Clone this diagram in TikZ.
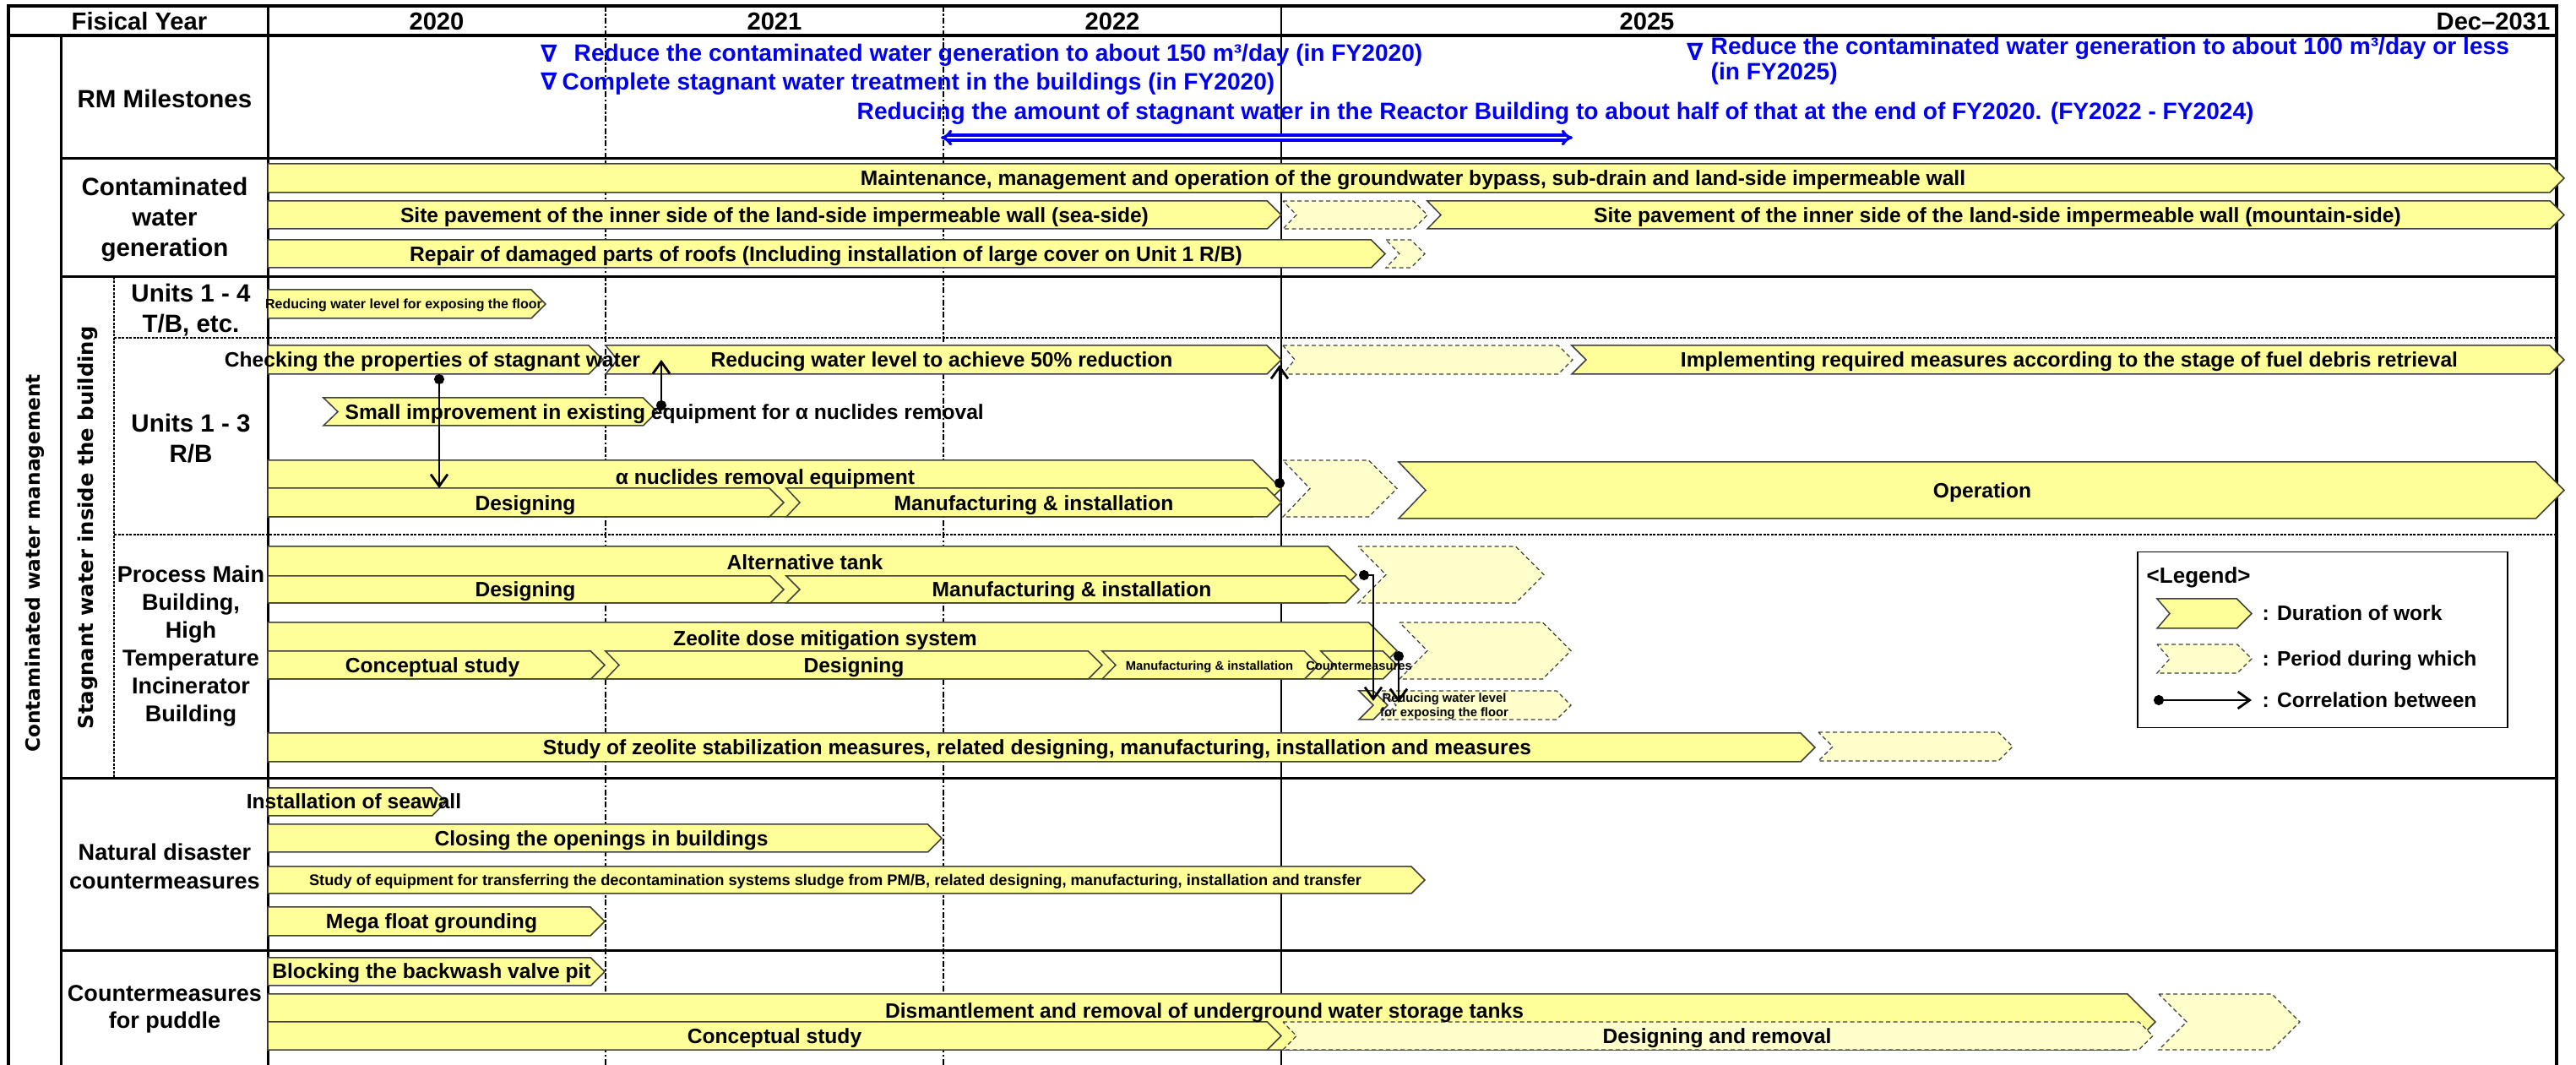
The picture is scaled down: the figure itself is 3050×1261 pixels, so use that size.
\documentclass[tikz,border=0pt]{standalone}
\usepackage{fontspec}
\setmainfont{Liberation Sans}
\newfontfamily\wideface{DejaVu Sans}
\usetikzlibrary{arrows.meta}

\definecolor{workfill}{HTML}{FFFF99}
\definecolor{planfill}{HTML}{FFFFCC}
\definecolor{edgegray}{HTML}{404040}
\definecolor{msblue}{HTML}{0000F0}

% chevron bar: [style]{left x}{tip x}{top y}{bottom y}{left notch depth}
\newcommand{\chevbar}[6][work]{%
  \pgfmathsetmacro\cbhalf{(#5-#4)/2}%
  \pgfmathsetmacro\cbmid{(#5+#4)/2}%
  \path[#1] (#2,#4) -- ({#3-\cbhalf},#4) -- (#3,\cbmid) -- ({#3-\cbhalf},#5)
    -- (#2,#5) -- ({#2+#6},\cbmid) -- cycle;%
}

\begin{document}
\begin{tikzpicture}[x=0.1mm, y=-0.1mm,
  work/.style={fill=workfill, draw=edgegray, line width=0.15mm, line join=miter},
  plan/.style={fill=planfill, draw=edgegray, line width=0.12mm, dash pattern=on 0.5mm off 0.35mm},
  thickrule/.style={line width=0.35mm},
  rule/.style={line width=0.3mm},
  yeardash/.style={line width=0.12mm, dash pattern=on 0.7mm off 0.25mm on 0.25mm off 0.25mm},
  subdash/.style={line width=0.18mm, dash pattern=on 0.3mm off 0.15mm},
  hdr/.style={font=\fontsize{8.3}{10}\selectfont\bfseries, inner sep=0pt, text height=5.9pt, text depth=0pt},
  rowlbl/.style={font=\fontsize{7.7}{10.2}\selectfont\bfseries, align=center, inner sep=0pt},
  bigrowlbl/.style={font=\fontsize{8.4}{10.2}\selectfont\bfseries, align=center, inner sep=0pt},
  vlbl/.style={font=\wideface\fontsize{6.6}{8}\selectfont\bfseries, rotate=90, inner sep=0pt},
  btxt/.style={font=\fontsize{7}{8.4}\selectfont\bfseries, inner sep=0pt, text height=5pt, text depth=0pt},
  mtxt/.style={font=\fontsize{5.2}{6.2}\selectfont\bfseries, inner sep=0pt, text height=3.7pt, text depth=0pt},
  utxt/.style={font=\fontsize{4.55}{5.4}\selectfont\bfseries, inner sep=0pt, text height=3.25pt, text depth=0pt},
  stxt/.style={font=\fontsize{4.2}{5}\selectfont\bfseries, inner sep=0pt, text height=3pt, text depth=0pt},
  stxtml/.style={font=\fontsize{4.2}{4.85}\selectfont\bfseries, inner sep=0pt, align=center},
  mstone/.style={font=\fontsize{8}{6.3}\selectfont\bfseries, text=msblue, inner sep=0pt, anchor=base west},
  mtri/.style={font=\wideface\fontsize{8}{8}\selectfont\bfseries, text=msblue, inner sep=0pt},
  legtxt/.style={font=\fontsize{7}{8}\selectfont\bfseries, inner sep=0pt, anchor=west, text height=5pt, text depth=0pt},
  corr/.style={line width=0.28mm, {Circle[length=1.2mm]}-{Straight Barb[length=1.4mm,width=2mm]}},
  span/.style={draw=msblue, line width=0.33mm, double=white, double distance=0.25mm, {Implies}-{Implies}}
]
\useasboundingbox (0,0) rectangle (3050,1261);
\fill[white] (0,0) rectangle (3050,1261);

% ---------- year separators ----------
\draw[yeardash] (717,7) -- (717,1261);
\draw[yeardash] (1117,7) -- (1117,1261);
\draw[line width=0.13mm] (1517,7) -- (1517,1261);

% ---------- table frame ----------
\draw[thickrule] (10,1261) -- (10,7) -- (3027,7) -- (3027,1261);
\draw[thickrule] (10,42) -- (3027,42);
\draw[rule] (72,42) -- (72,1261);
\draw[rule] (317,7) -- (317,1261);
\foreach \yy in {188,328,922,1126} \draw[rule] (72,\yy) -- (3027,\yy);
\draw[subdash] (135,400) -- (3027,400);
\draw[subdash] (135,633) -- (3027,633);
\draw[subdash] (135,328) -- (135,922);

% ---------- header ----------
\node[hdr] (hFY) at (165,25) {Fisical Year};
\node[hdr] (h2020) at (517,25) {2020};
\node[hdr] (h2021) at (917,25) {2021};
\node[hdr] (h2022) at (1317,25) {2022};
\node[hdr] (h2025) at (1950,25) {2025};
\node[hdr, anchor=east] (hEnd) at (3020,25) {Dec–2031};

% ---------- row labels ----------
\node[vlbl] (lblCWM) at (41,667) {Contaminated water management};
\node[vlbl, font=\wideface\fontsize{6.9}{8}\selectfont\bfseries] (lblSW) at (104,625) {Stagnant water inside the building};
\node[bigrowlbl] (lblRM) at (195,117) {RM Milestones};
\node[bigrowlbl] (lblCWG) at (195,260) {Contaminated\\water\\generation};
\node[bigrowlbl] (lblU14) at (226,367) {Units 1 - 4\\T/B, etc.};
\node[bigrowlbl, font=\fontsize{8.4}{10.4}\selectfont\bfseries] (lblU13) at (226,519) {Units 1 - 3\\R/B};
\node[rowlbl, font=\fontsize{7.7}{9.4}\selectfont\bfseries] (lblPMB) at (226,765) {Process Main\\Building,\\High\\Temperature\\Incinerator\\Building};
\node[rowlbl, font=\fontsize{7.7}{9.7}\selectfont\bfseries] (lblND) at (195,1026) {Natural disaster\\countermeasures};
\node[rowlbl, font=\fontsize{7.7}{9.1}\selectfont\bfseries] (lblCP) at (195,1195) {Countermeasures\\for puddle};

% ---------- RM milestones ----------
\node[mtri] (tri1) at (650,63) {∇};
\node[mstone] (ms1) at (679,73) {Reduce the contaminated water generation to about 150 m³/day (in FY2020)};
\node[mtri] (tri2) at (650,96) {∇};
\node[mstone] (ms2) at (665,107) {Complete stagnant water treatment in the buildings (in FY2020)};
\node[mstone] (ms3) at (1014,142) {Reducing the amount of stagnant water in the Reactor Building to about half of that at the end of FY2020. (FY2022 - FY2024)};
\node[mtri] (tri4) at (2007,61) {∇};
\node[mstone] (ms4a) at (2025,65) {Reduce the contaminated water generation to about 100 m³/day or less};
\node[mstone] (ms4b) at (2025,95) {(in FY2025)};
\coordinate (spanL) at (1114,163);
\coordinate (spanR) at (1862,163);
\draw[span] (spanL) -- (spanR);

% ---------- contaminated water generation ----------
\chevbar{317}{3036}{194}{228}{0}
\chevbar{317}{1517}{238}{271}{0}
\chevbar[plan]{1519}{1690}{238}{271}{16}
\chevbar{1690}{3036}{238}{271}{16}
\chevbar{317}{1640}{284}{317}{0}
\chevbar[plan]{1641}{1687}{284}{317}{16}
\node[btxt] (cw1) at (1673,211) {Maintenance, management and operation of the groundwater bypass, sub-drain and land-side impermeable wall};
\node[btxt] (cw2) at (917,255) {Site pavement of the inner side of the land-side impermeable wall (sea-side)};
\node[btxt] (cw3) at (2365,255) {Site pavement of the inner side of the land-side impermeable wall (mountain-side)};
\node[btxt] (cw4) at (978,301) {Repair of damaged parts of roofs (Including installation of large cover on Unit 1 R/B)};

% ---------- units 1-4 T/B ----------
\chevbar{317}{646}{343}{377}{0}
\node[utxt] (tb1) at (478,360) {Reducing water level for exposing the floor};

% ---------- units 1-3 R/B ----------
\chevbar{317}{714}{409}{443}{0}
\chevbar{717}{1517}{409}{443}{14}
\chevbar[plan]{1519}{1862}{409}{443}{14}
\chevbar{1861}{3036}{409}{443}{17}
\chevbar{383}{778}{471}{504}{17}
\chevbar{317}{1517}{545}{612}{0}
\chevbar{317}{928}{578}{612}{0}
\chevbar{931}{1517}{578}{612}{16}
\chevbar[plan]{1519}{1654}{545}{612}{32}
\chevbar{1656}{3036}{547}{614}{32}
\node[btxt] (rb1) at (512,426) {Checking the properties of stagnant water};
\node[btxt] (rb2) at (1115,426) {Reducing water level to achieve 50\% reduction};
\node[btxt] (rb3) at (2450,426) {Implementing required measures according to the stage of fuel debris retrieval};
\node[btxt, anchor=west] (rb4) at (408,488) {Small improvement in existing equipment for α nuclides removal};
\node[btxt] (rb5) at (906,565) {α nuclides removal equipment};
\node[btxt] (rb6) at (622,596) {Designing};
\node[btxt] (rb7) at (1224,596) {Manufacturing \& installation};
\node[btxt] (rb8) at (2347,581) {Operation};

% ---------- process main building / HTI ----------
\chevbar{317}{1606}{647}{714}{0}
\chevbar{317}{928}{682}{714}{0}
\chevbar{931}{1609}{682}{714}{16}
\chevbar[plan]{1608}{1828}{647}{714}{33}
\chevbar{317}{1654}{737}{804}{0}
\chevbar{317}{716}{771}{804}{0}
\chevbar{717}{1305}{771}{804}{16}
\chevbar{1305}{1561}{771}{804}{16}
\chevbar{1564}{1654}{771}{804}{16}
\chevbar[plan]{1657}{1860}{737}{804}{33}
\chevbar[plan]{1636}{1860}{818}{852}{17}
\chevbar{1609}{1643}{818}{852}{17}
\chevbar{317}{2149}{868}{902}{0}
\chevbar[plan]{2153}{2383}{867}{901}{17}
\node[btxt] (pm1) at (953,666) {Alternative tank};
\node[btxt] (pm2) at (622,698) {Designing};
\node[btxt] (pm3) at (1269,698) {Manufacturing \& installation};
\node[btxt] (pm4) at (977,756) {Zeolite dose mitigation system};
\node[btxt] (pm5) at (512,788) {Conceptual study};
\node[btxt] (pm6) at (1011,788) {Designing};
\node[stxt] (pm7) at (1432,788) {Manufacturing \& installation};
\node[stxt] (pm8) at (1609,788) {Countermeasures};
\node[stxtml] (pm9) at (1710,836) {Reducing water level\\for exposing the floor};
\node[btxt] (pm10) at (1228,885) {Study of zeolite stabilization measures, related designing, manufacturing, installation and measures};

% ---------- legend ----------
\node[draw, line width=0.15mm, anchor=north west, minimum width=43.8mm, minimum height=20.8mm, inner sep=0pt] (legendBox) at (2530,653) {};
\node[legtxt, font=\fontsize{7.4}{8}\selectfont\bfseries] (legHead) at (2541,682) {<Legend>};
\chevbar{2554}{2666}{709}{744}{15}
\chevbar[plan]{2554}{2666}{763}{797}{15}
\node[legtxt] (legWork) at (2678,726) {: Duration of work};
\node[legtxt] (legPlan) at (2678,780) {: Period during which};
\node[legtxt] (legCorr) at (2678,829) {: Correlation between};

% ---------- natural disaster countermeasures ----------
\chevbar{317}{528}{933}{966}{0}
\chevbar{317}{1115}{976}{1009}{0}
\chevbar{317}{1687}{1026}{1058}{0}
\chevbar{317}{716}{1074}{1108}{0}
\node[btxt] (nd1) at (419,949) {Installation of seawall};
\node[btxt] (nd2) at (712,993) {Closing the openings in buildings};
\node[mtxt] (nd3) at (989,1042) {Study of equipment for transferring the decontamination systems sludge from PM/B, related designing, manufacturing, installation and transfer};
\node[btxt] (nd4) at (511,1091) {Mega float grounding};

% ---------- countermeasures for puddle ----------
\chevbar{317}{716}{1134}{1167}{0}
\chevbar{317}{2552}{1177}{1243}{0}
\chevbar{317}{1517}{1210}{1243}{0}
\chevbar[plan]{1519}{2549}{1210}{1243}{16}
\chevbar[plan]{2556}{2723}{1177}{1243}{33}
\node[btxt] (cp1) at (511,1150) {Blocking the backwash valve pit};
\node[btxt] (cp2) at (1426,1197) {Dismantlement and removal of underground water storage tanks};
\node[btxt] (cp3) at (917,1227) {Conceptual study};
\node[btxt] (cp4) at (2033,1227) {Designing and removal};

% ---------- correlations ----------
\coordinate (chkOut) at (520,443);
\coordinate (dsgIn) at (520,578);
\draw[corr] (chkOut) -- (dsgIn);
\coordinate (smlOut) at (783,486);
\coordinate (redIn) at (783,426);
\draw[corr] (smlOut) -- (redIn);
\coordinate (nucOut) at (1515,578);
\coordinate (redEnd) at (1515,432);
\draw[corr] (nucOut) -- (redEnd);
\coordinate (altOut) at (1609,681);
\coordinate (altTurn) at (1626,681);
\coordinate (floorIn) at (1626,830);
\draw[corr] (altOut) -- (altTurn) -- (floorIn);
\coordinate (zeoOut) at (1656,771);
\coordinate (floorIn2) at (1656,832);
\draw[corr] (zeoOut) -- (floorIn2);
\coordinate (legA) at (2550,829);
\coordinate (legB) at (2666,829);
\draw[corr] (legA) -- (legB);
\end{tikzpicture}
\end{document}
